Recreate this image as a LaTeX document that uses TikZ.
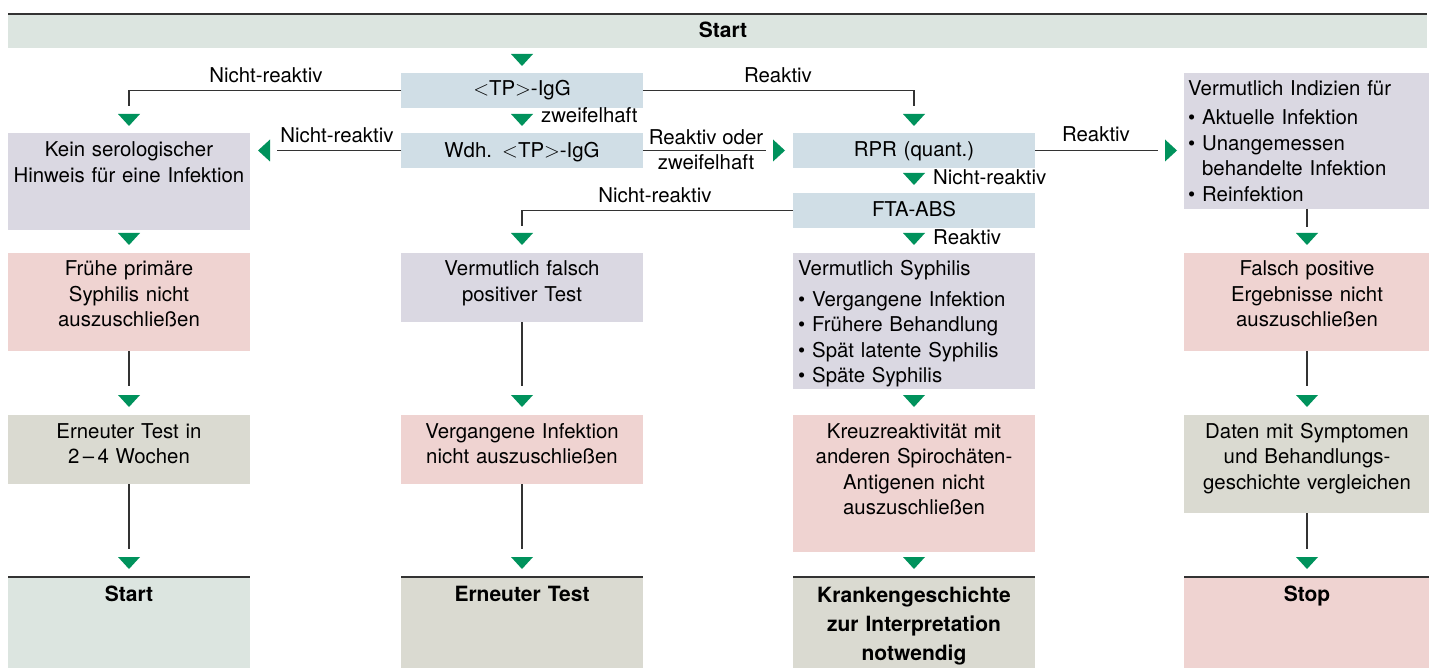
\documentclass[tikz,border=0pt]{standalone}
\usepackage{fontspec}
\setmainfont{TeX Gyre Heros}
\definecolor{startbg}{RGB}{220,229,224}
\definecolor{testbg}{RGB}{208,222,230}
\definecolor{lavbg}{RGB}{218,216,226}
\definecolor{pinkbg}{RGB}{239,211,209}
\definecolor{beigebg}{RGB}{218,218,209}
\definecolor{agreen}{RGB}{0,146,92}
\definecolor{lineg}{RGB}{51,51,51}
\newcommand{\ltp}{\ensuremath{<}}
\newcommand{\gtp}{\ensuremath{>}}
\begin{document}
\begin{tikzpicture}[x=1pt,y=-1pt,
  box/.style={rectangle, inner sep=0pt, outer sep=0pt, anchor=north west, draw=none},
  txt/.style={inner sep=0pt, font=\fontsize{20.4}{25.5}\selectfont, anchor=base, align=center},
  ltxt/.style={inner sep=0pt, font=\fontsize{20.4}{25.5}\selectfont, anchor=base west, align=left},
  btxt/.style={inner sep=0pt, font=\fontsize{21}{29}\selectfont\bfseries, anchor=base, align=center},
  lbl/.style={inner sep=0pt, font=\fontsize{20.4}{24}\selectfont, anchor=base},
  conn/.style={draw=lineg, line width=1.3pt},
  topline/.style={draw=lineg, line width=1.6pt},
  dn/.pic={\fill[agreen] (-11,0)--(11,0)--(0,12)--cycle;},
  lt/.pic={\fill[agreen] (0,-11)--(0,11)--(-12,0)--cycle;},
  rt/.pic={\fill[agreen] (0,-11)--(0,11)--(12,0)--cycle;},
]
\useasboundingbox (0,0) rectangle (1429,668);

% ---- top start bar
\node[box, fill=startbg, minimum width=1419, minimum height=34] (start) at (8,14) {};
\draw[topline] (start.north west) -- (start.north east);
\node[btxt, text width=200] (startT) at (723,38) {Start};
\pic at (522,54) {dn};

% ---- tests
\node[box, fill=testbg, minimum width=242, minimum height=35] (tp) at (401,73) {};
\node[txt, text width=242] (tpT) at (522,96) {\ltp TP\gtp-IgG};
\node[box, fill=testbg, minimum width=242, minimum height=35] (wdh) at (401,133) {};
\node[txt, text width=242] (wdhT) at (522,158) {Wdh. \ltp TP\gtp-IgG};
\node[box, fill=testbg, minimum width=242, minimum height=35] (rpr) at (793,133) {};
\node[txt, text width=242] (rprT) at (914,157) {RPR (quant.)};
\node[box, fill=testbg, minimum width=242, minimum height=35] (fta) at (793,193) {};
\node[txt, text width=242] (ftaT) at (914,217) {FTA-ABS};

% ---- TP-IgG branches
\coordinate (nrA) at (129,106);
\draw[conn] (tp.west) -| (nrA);
\node[lbl] (nrAL) at (266,83) {Nicht-reaktiv};
\pic at (129,114) {dn};
\coordinate (rA) at (914,106);
\draw[conn] (tp.east) -| (rA);
\node[lbl] (rAL) at (778,83) {Reaktiv};
\pic at (914,114) {dn};
\pic at (522,114) {dn};
\node[lbl, anchor=base west] (zwL) at (541,123) {zweifelhaft};

% ---- Wdh branches
\coordinate (nrB) at (277,150.5);
\draw[conn] (wdh.west) -- (nrB);
\pic at (270,150.5) {lt};
\node[lbl] (nrBL) at (337,143) {Nicht-reaktiv};
\coordinate (roB) at (766,150.5);
\draw[conn] (wdh.east) -- (roB);
\pic at (773,150.5) {rt};
\node[lbl] (roBL1) at (706,145) {Reaktiv oder};
\node[lbl] (roBL2) at (706,170) {zweifelhaft};

% ---- RPR branches
\coordinate (rC) at (1158,150.5);
\draw[conn] (rpr.east) -- (rC);
\pic at (1165,150.5) {rt};
\node[lbl] (rCL) at (1096,142) {Reaktiv};
\pic at (914,173) {dn};
\node[lbl, anchor=base west] (nrCL) at (933,185) {Nicht-reaktiv};

% ---- FTA branches
\coordinate (nrD) at (522,226);
\draw[conn] (fta.west) -| (nrD);
\node[lbl] (nrDL) at (655,203) {Nicht-reaktiv};
\pic at (522,233) {dn};
\pic at (914,233) {dn};
\node[lbl, anchor=base west] (rDL) at (933,245) {Reaktiv};

% ---- row 2
\node[box, fill=lavbg, minimum width=242, minimum height=97] (kein) at (8,133) {};
\node[txt, text width=242] (keinT) at (129,157) {Kein serologischer\\Hinweis für eine Infektion};
\node[box, fill=lavbg, minimum width=246, minimum height=136] (ind) at (1184,73) {};
\node[ltxt, text width=238] (indT) at (1188,96) {Vermutlich Indizien für\\[3.5pt]%
\textbullet\ Aktuelle Infektion\\
\textbullet\ Unangemessen\\
\phantom{\textbullet\ }behandelte Infektion\\
\textbullet\ Reinfektion};
\pic at (129,233) {dn};
\coordinate (e4a) at (1307,227);
\draw[conn] (ind.south) -- (e4a);
\pic at (1307,233) {dn};

% ---- row 3
\node[box, fill=pinkbg, minimum width=242, minimum height=98] (fruehe) at (8,253) {};
\node[txt, text width=242] (fruehT) at (129,276) {Frühe primäre\\Syphilis nicht\\auszuschließen};
\node[box, fill=lavbg, minimum width=242, minimum height=69] (falsch) at (401,253) {};
\node[txt, text width=242] (falschT) at (522,276) {Vermutlich falsch\\positiver Test};
\node[box, fill=lavbg, minimum width=242, minimum height=136] (syph) at (793,253) {};
\node[ltxt, text width=236] (syphT) at (798,276) {Vermutlich Syphilis\\[5pt]%
\textbullet\ Vergangene Infektion\\
\textbullet\ Frühere Behandlung\\
\textbullet\ Spät latente Syphilis\\
\textbullet\ Späte Syphilis};
\node[box, fill=pinkbg, minimum width=246, minimum height=98] (fpos) at (1184,253) {};
\node[txt, text width=246] (fposT) at (1307,276) {Falsch positive\\Ergebnisse nicht\\auszuschließen};

\coordinate (e1b) at (129,386);
\draw[conn] (fruehe.south) -- (e1b);
\pic at (129,395) {dn};
\coordinate (e2b) at (522,386);
\draw[conn] (falsch.south) -- (e2b);
\pic at (522,395) {dn};
\pic at (914,395) {dn};
\coordinate (e4b) at (1307,386);
\draw[conn] (fpos.south) -- (e4b);
\pic at (1307,395) {dn};

% ---- row 4
\node[box, fill=beigebg, minimum width=242, minimum height=69] (erneut) at (8,415) {};
\node[txt, text width=242] (erneutT) at (129,438) {Erneuter Test in\\2\,–\,4 Wochen};
\node[box, fill=pinkbg, minimum width=242, minimum height=69] (verg) at (401,415) {};
\node[txt, text width=242] (vergT) at (522,438) {Vergangene Infektion\\nicht auszuschließen};
\node[box, fill=pinkbg, minimum width=242, minimum height=137] (kreuz) at (793,415) {};
\node[txt, text width=242] (kreuzT) at (914,438) {Kreuzreaktivität mit\\anderen Spirochäten-\\Antigenen nicht\\auszuschließen};
\node[box, fill=beigebg, minimum width=246, minimum height=98] (daten) at (1184,415) {};
\node[txt, text width=246] (datenT) at (1307,438) {Daten mit Symptomen\\und Behandlungs-\\geschichte vergleichen};

\coordinate (e1c) at (129,549);
\draw[conn] (erneut.south) -- (e1c);
\pic at (129,557) {dn};
\coordinate (e2c) at (522,549);
\draw[conn] (verg.south) -- (e2c);
\pic at (522,557) {dn};
\pic at (914,557) {dn};
\coordinate (e4c) at (1307,549);
\draw[conn] (daten.south) -- (e4c);
\pic at (1307,557) {dn};

% ---- row 5 (end boxes)
\node[box, fill=startbg, minimum width=242, minimum height=91] (endA) at (8,577) {};
\draw[topline] (endA.north west) -- (endA.north east);
\node[btxt, text width=242] (endAT) at (129,601) {Start};
\node[box, fill=beigebg, minimum width=242, minimum height=91] (endB) at (401,577) {};
\draw[topline] (endB.north west) -- (endB.north east);
\node[btxt, text width=242] (endBT) at (522,601) {Erneuter Test};
\node[box, fill=beigebg, minimum width=242, minimum height=91] (endC) at (793,577) {};
\draw[topline] (endC.north west) -- (endC.north east);
\node[btxt, text width=242] (endCT) at (914,602) {Krankengeschichte\\zur Interpretation\\notwendig};
\node[box, fill=pinkbg, minimum width=246, minimum height=91] (endD) at (1184,577) {};
\draw[topline] (endD.north west) -- (endD.north east);
\node[btxt, text width=246] (endDT) at (1307,601) {Stop};
\end{tikzpicture}
\end{document}
